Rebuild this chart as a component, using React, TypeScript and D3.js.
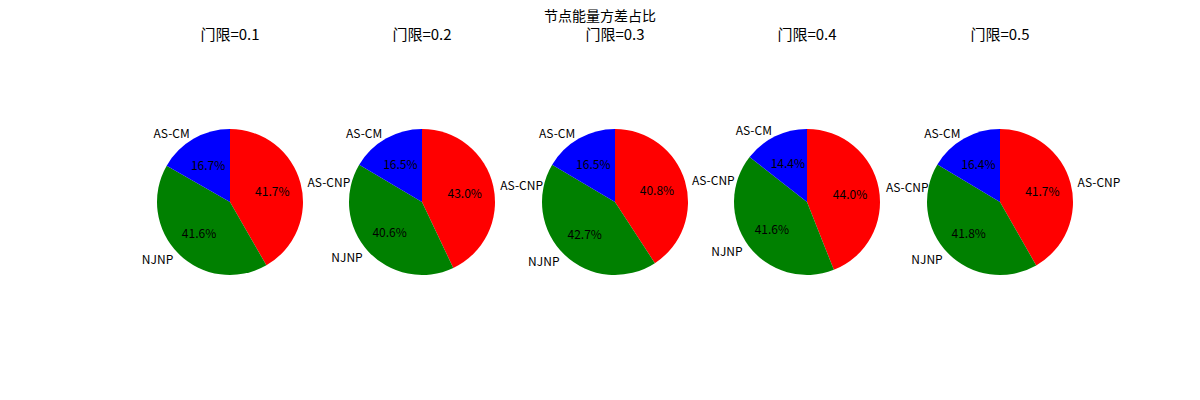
import React from "react";
import * as d3 from "d3";

const titles = ["门限=0.1", "门限=0.2", "门限=0.3", "门限=0.4", "门限=0.5"];
const categories = ["AS-CNP", "NJNP", "AS-CM"];
const colors = ["#ff0000", "#008000", "#0000ff"];
const values = [
  [41.7, 41.6, 16.7],
  [43.0, 40.6, 16.5],
  [40.8, 42.7, 16.5],
  [44.0, 41.6, 14.4],
  [41.7, 41.8, 16.4],
];
const centersX = [230, 422, 615, 807, 1000];

export default function App() {
  const r = 73;
  const cy = 202;
  const pie = d3.pie<number>().sort(null).startAngle(0).endAngle(2 * Math.PI);
  const arc = d3.arc<d3.PieArcDatum<number>>().innerRadius(0).outerRadius(r);
  const font = "'Noto Sans CJK SC', sans-serif";
  return (
    <svg width={1200} height={400} style={{ position: "absolute", left: 0, top: 0 }} fontFamily={font}>
      <rect width={1200} height={400} fill="#fff" />
      <text x={600} y={21} textAnchor="middle" fontSize={14}>节点能量方差占比</text>
      {values.map((vals, i) => {
        const cx = centersX[i];
        const arcs = pie(vals);
        return (
          <g key={i}>
            <text x={cx} y={40} textAnchor="middle" fontSize={15}>{titles[i]}</text>
            <g transform={`translate(${cx},${cy})`}>
              {arcs.map((a, j) => {
                const mid = (a.startAngle + a.endAngle) / 2;
                const sx = Math.sin(mid), sy = -Math.cos(mid);
                return (
                  <g key={j}>
                    <path d={arc(a) || ""} fill={colors[j]} />
                    <text x={sx * r * 0.6} y={sy * r * 0.6} textAnchor="middle" dominantBaseline="central" fontSize={12}>
                      {vals[j].toFixed(1)}%
                    </text>
                    <text x={sx * r * 1.1} y={sy * r * 1.1} textAnchor={sx > 0 ? "start" : "end"} dominantBaseline="central" fontSize={12}>
                      {categories[j]}
                    </text>
                  </g>
                );
              })}
            </g>
          </g>
        );
      })}
    </svg>
  );
}
